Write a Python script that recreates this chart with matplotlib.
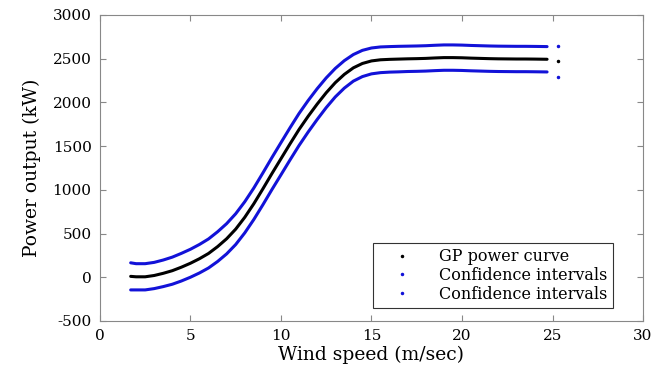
import matplotlib
matplotlib.use("Agg")
import matplotlib.pyplot as plt
from matplotlib.lines import Line2D

plt.rcParams['font.family'] = ['DejaVu Serif']
plt.rcParams['axes.unicode_minus'] = False

wind = [1.7, 2.0, 2.5, 3.0, 3.5, 4.0, 4.5, 5.0, 5.5, 6.0, 6.5, 7.0, 7.5, 8.0,
        8.5, 9.0, 9.5, 10.0, 10.5, 11.0, 11.5, 12.0, 12.5, 13.0, 13.5, 14.0,
        14.5, 15.0, 15.5, 16.0, 16.5, 17.0, 17.5, 18.0, 18.5, 19.0, 19.5,
        20.0, 20.5, 21.0, 21.5, 22.0, 22.5, 23.0, 23.5, 24.0, 24.7]
power = [10, 5, 5, 20, 45, 75, 115, 160, 212, 272, 350, 440, 550, 685,
         840, 1010, 1185, 1355, 1525, 1690, 1840, 1980, 2110, 2225, 2320, 2395,
         2445, 2474, 2487, 2492, 2495, 2498, 2500, 2503, 2508, 2512, 2512,
         2510, 2506, 2503, 2500, 2498, 2497, 2496, 2496, 2495, 2493]
half_width = [155, 150, 150, 150, 152, 155, 158, 160, 163, 166, 170, 173, 176, 178,
              180, 182, 183, 184, 184, 183, 180, 176, 170, 163, 157, 152,
              150, 148, 147, 146, 146, 145, 145, 145, 145, 145, 145,
              145, 145, 145, 145, 145, 145, 145, 145, 145, 145]

iso_wind = [25.3]
iso_power = [2470]
iso_upper = [2640]
iso_lower = [2295]

upper = [p + h for p, h in zip(power, half_width)]
lower = [p - h for p, h in zip(power, half_width)]

blue = '#1212d8'

fig = plt.figure(figsize=(6.66, 3.83), dpi=100)
ax = fig.add_axes([0.150, 0.162, 0.8155, 0.799])

ax.plot(wind, upper, color=blue, lw=2.2, solid_capstyle='round')
ax.plot(wind, power, color='black', lw=2.2, solid_capstyle='round')
ax.plot(wind, lower, color=blue, lw=2.2, solid_capstyle='round')
ax.plot(iso_wind, iso_upper, '.', color=blue, ms=3)
ax.plot(iso_wind, iso_power, '.', color='black', ms=3)
ax.plot(iso_wind, iso_lower, '.', color=blue, ms=3)

ax.set_xlim(0, 30)
ax.set_ylim(-500, 3000)
ax.set_xticks([0, 5, 10, 15, 20, 25, 30])
ax.set_yticks([-500, 0, 500, 1000, 1500, 2000, 2500, 3000])
ax.tick_params(direction='in', top=True, right=True, labelsize=11,
               color='#888888', length=4, pad=6)
for s in ax.spines.values():
    s.set_color('#888888')
    s.set_linewidth(0.8)

ax.set_xlabel('Wind speed (m/sec)', fontsize=13.5, labelpad=2)
ax.set_ylabel('Power output (kW)', fontsize=13.5, labelpad=8)

handles = [Line2D([], [], ls='none', marker='.', ms=3, color='black'),
           Line2D([], [], ls='none', marker='.', ms=3, color=blue),
           Line2D([], [], ls='none', marker='.', ms=3, color=blue)]
leg = ax.legend(handles, ['GP power curve', 'Confidence intervals', 'Confidence intervals'],
                loc='lower right', bbox_to_anchor=(0.945, 0.042), fontsize=11.5,
                frameon=True, fancybox=False, edgecolor='black',
                handlelength=3.0, handletextpad=0.8, borderpad=0.35,
                borderaxespad=0.0, labelspacing=0.1)
leg.get_frame().set_linewidth(0.8)

fig.savefig('out.png', dpi=100)
